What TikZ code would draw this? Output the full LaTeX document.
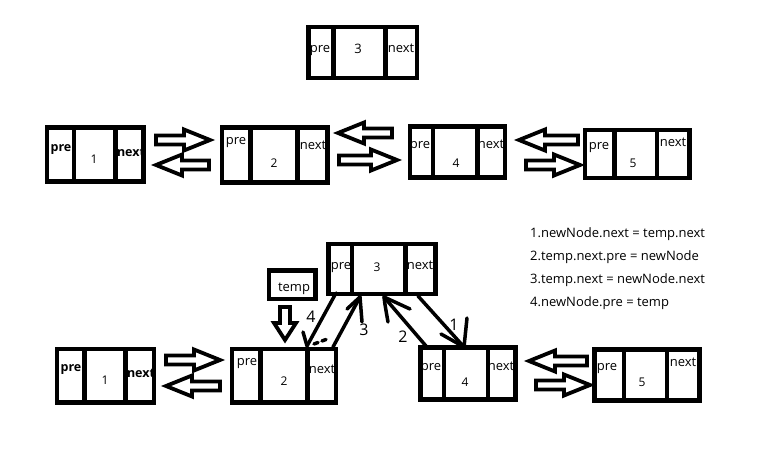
\documentclass[tikz,border=0pt]{standalone}
\usepackage{fontspec}
\setmainfont{Open Sans}
\begin{document}
\begin{tikzpicture}[x=1pt,y=-1pt]
\tikzset{
 bx/.style={draw, line width=4.5pt, rectangle, inner sep=0pt, outer sep=0pt},
 dv/.style={line width=4.5pt},
 lb/.style={font=\fontsize{13}{15}\selectfont, inner sep=0pt},
 lbb/.style={font=\bfseries\fontsize{12.5}{15}\selectfont, inner sep=0pt},
 num/.style={font=\fontsize{12}{14}\selectfont, inner sep=0pt},
 ba/.style={line width=3.8pt, line join=miter},
 hand/.style={line width=3.5pt, line cap=round},
 hnum/.style={font=\fontsize{16}{18}\selectfont, inner sep=0pt},
 lst/.style={font=\fontsize{13}{15}\selectfont, anchor=west, inner sep=0pt},
}
\newcommand\llnode[7]{%
 \node[bx, anchor=north west, minimum width={#4pt-#2pt}, minimum height={#5pt-#3pt}] (#1) at (#2,#3) {};
 \draw[dv] (#6,#3) -- (#6,#5);
 \draw[dv] (#7,#3) -- (#7,#5);
}
\newcommand\barR[3]{%
 \draw[ba] (#1,#3-4.5) -- (#2-26,#3-4.5) -- (#2-26,#3-10.5) -- (#2,#3) -- (#2-26,#3+10.5) -- (#2-26,#3+4.5) -- (#1,#3+4.5) -- cycle;}
\newcommand\barL[3]{%
 \draw[ba] (#2,#3-4.5) -- (#1+26,#3-4.5) -- (#1+26,#3-10.5) -- (#1,#3) -- (#1+26,#3+10.5) -- (#1+26,#3+4.5) -- (#2,#3+4.5) -- cycle;}
\useasboundingbox (0,0) rectangle (783,465);
\fill[white] (0,0) rectangle (783,465);
% top new node
\llnode{t3}{308.5}{27}{417}{78}{333.5}{385.5}
\node[lb] (t3p) at (320,51) {pre};
\node[num,font=\fontsize{13}{15}\selectfont] (t3n) at (358,49) {3};
\node[lb] (t3x) at (401,48) {next};
% row 1
\llnode{n1}{47}{127.5}{143.5}{181.5}{74}{115.5}
\node[lbb] (n1p) at (61,150) {pre};
\node[num] (n1n) at (94,159) {1};
\node[lbb] (n1x) at (131,152) {next};
\llnode{n2}{222}{127.5}{327.5}{182.5}{250.5}{297.5}
\node[lb] (n2p) at (236,143) {pre};
\node[num] (n2n) at (274,163) {2};
\node[lb] (n2x) at (313,145) {next};
\llnode{n4}{410}{126.5}{505}{177.5}{433}{477.5}
\node[lb] (n4p) at (420,147) {pre};
\node[num] (n4n) at (456,163) {4};
\node[lb] (n4x) at (491,144) {next};
\llnode{n5}{585}{130}{689.5}{178}{614.5}{657}
\node[lb] (n5p) at (599,148) {pre};
\node[num] (n5n) at (633,163) {5};
\node[lb] (n5x) at (673,142) {next};
\barR{156}{210}{140}
\barL{156}{209}{165}
\barL{338}{392}{133}
\barR{339}{397}{160}
\barL{519}{578}{140}
\barR{526}{580}{165}
% row 3
\llnode{m1}{57}{349}{154}{402.5}{84.5}{125.5}
\node[lbb] (m1p) at (71,370) {pre};
\node[num] (m1n) at (105,380) {1};
\node[lbb] (m1x) at (141,373) {next};
\llnode{m2}{232}{349}{336}{402.5}{260.5}{307.5}
\node[lb] (m2p) at (247,364) {pre};
\node[num] (m2n) at (284,381) {2};
\node[lb] (m2x) at (322,369) {next};
\llnode{m3}{328.5}{244}{435.5}{294}{352}{405.5}
\node[lb] (m3p) at (341,268) {pre};
\node[num] (m3n) at (377,267) {3};
\node[lb] (m3x) at (420,265) {next};
\llnode{m4}{420.5}{347.5}{515.5}{399.5}{444}{488}
\node[lb] (m4p) at (431,369) {pre};
\node[num] (m4n) at (465,382) {4};
\node[lb] (m4x) at (501,366) {next};
\llnode{m5}{594.5}{349.5}{699.5}{400.5}{624}{667}
\node[lb] (m5p) at (607,369) {pre};
\node[num] (m5n) at (642,382) {5};
\node[lb] (m5x) at (683,362) {next};
\barR{166}{220}{360}
\barL{166}{220}{386}
\barL{529}{587}{361}
\barR{536}{590}{385}
% temp
\node[bx, anchor=north west, minimum width=46.5pt, minimum height=28.5pt] (tmp) at (269,270.5) {};
\node[lb] (tmpl) at (294,289) {temp};
\draw[ba] (280,307) -- (290,307) -- (290,323) -- (296,323) -- (285,340) -- (274,323) -- (280,323) -- cycle;
% hand connectors
\coordinate (c4a) at (336,293); \coordinate (c4b) at (307,346);
\coordinate (c3a) at (333,347); \coordinate (c3b) at (360,297);
\coordinate (c2a) at (426,346); \coordinate (c2b) at (384,297);
\coordinate (c1a) at (418,296); \coordinate (c1b) at (464,347);
\draw[hand] (c4a) -- (c4b);
\draw[hand] (c4b) -- (303,332);
\draw[hand] (314,344) -- (318,342.5) (322,341) -- (326,339.5);
\draw[hand] (c3a) -- (c3b);
\draw[hand] (c3b) -- (347,309);
\draw[hand] (c3b) -- (362,322);
\draw[hand] (c2a) -- (c2b);
\draw[hand] (c2b) .. controls (385,305) .. (388,322);
\draw[hand] (c2b) -- (410,309);
\draw[hand] (c1a) -- (c1b);
\draw[hand] (c1b) -- (441,334);
\draw[hand] (c1b) -- (467,318);
\node[hnum] (l4) at (311,317) {4};
\node[hnum] (l3) at (364,330) {3};
\node[hnum] (l2) at (403,337) {2};
\node[hnum] (l1) at (454,325) {1};
% list
\node[lst] (s1) at (530,234) {1.newNode.next = temp.next};
\node[lst] (s2) at (530,257) {2.temp.next.pre = newNode};
\node[lst] (s3) at (530,280) {3.temp.next = newNode.next};
\node[lst] (s4) at (530,303) {4.newNode.pre = temp};
\end{tikzpicture}
\end{document}
